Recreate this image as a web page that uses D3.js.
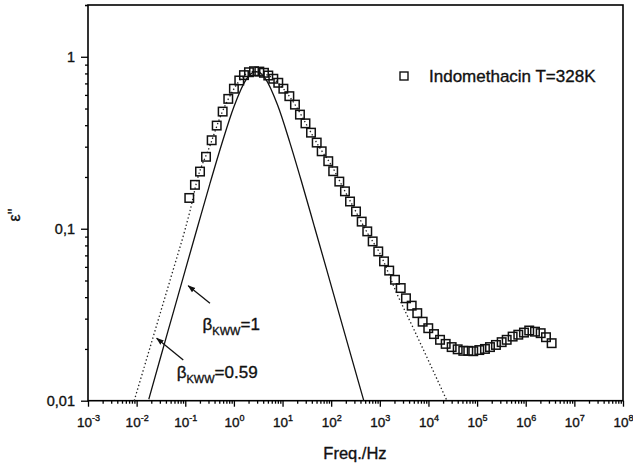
<!DOCTYPE html>
<html>
<head>
<meta charset="utf-8">
<script src="https://cdn.jsdelivr.net/npm/d3@7"></script>
<style>
  body { margin: 0; background: #fff; }
  svg { display: block; font-family: "Liberation Sans", Arial, sans-serif; }
  svg text { fill: #111; stroke: #111; stroke-width: 0.35px; }
  .axis path { display: none; }
  .axis line { stroke: #000; stroke-width: 1.3px; }
</style>
</head>
<body>
<div class="chart"></div>
<script>
// measured points, Indomethacin T=328K
const freq = [0.121,0.158,0.201,0.267,0.349,0.443,0.587,0.766,1.00,1.29,
  1.61,2.04,2.59,3.33,4.15,5.09,6.46,8.17,10.4,13.8,
  18.0,22.8,29.6,38.5,50.4,63.8,87.1,110,147,192,
  244,324,424,552,713,929,1220,1560,2050,2690,
  3450,4520,5890,7600,9910,13000,17300,22600,30000,39900,
  52000,65900,83400,111000,145000,184000,244000,320000,406000,538000,
  703000,920000,1.18e6,1.55e6,2.03e6,2.61e6,3.41e6];
const epsData = [0.151,0.180,0.215,0.262,0.327,0.398,0.480,0.569,0.652,0.728,
  0.782,0.813,0.824,0.820,0.807,0.778,0.745,0.706,0.652,0.590,
  0.527,0.461,0.410,0.362,0.317,0.282,0.247,0.216,0.188,0.165,
  0.144,0.126,0.110,0.0965,0.0844,0.0738,0.0646,0.0571,0.0505,0.0452,
  0.0394,0.0357,0.0323,0.0288,0.0264,0.0244,0.0226,0.0214,0.0205,0.0199,
  0.0195,0.0195,0.0194,0.0197,0.0200,0.0205,0.0211,0.0219,0.0226,0.0236,
  0.0242,0.0249,0.0256,0.0252,0.0247,0.0234,0.0216];

// solid line, beta_KWW = 1
const debyeFreq = [0.0178,0.0316,0.0562,0.1,0.178,0.316,0.562,1,1.78,2.24,
  2.85,3.55,4.47,7.94,14.1,25.1,44.7,79.4,141,251,468];
const debyeEps = [0.0102,0.0182,0.0323,0.0575,0.102,0.180,0.311,0.512,0.736,0.797,
  0.820,0.801,0.744,0.522,0.318,0.184,0.104,0.0588,0.0331,0.0186,0.0100];

// dotted line, beta_KWW = 0.59
const kwwFreq = [0.00891,0.0178,0.0316,0.0562,0.1,0.126,0.178,0.316,0.562,1,
  1.58,2.51,3.98,6.31,10,17.8,31.6,56.2,100,178,
  316,562,1000,2240,5010,10000,24000];
const kwwEps = [0.0100,0.0193,0.0333,0.0575,0.100,0.128,0.195,0.30,0.47,0.65,
  0.775,0.82,0.80,0.75,0.66,0.53,0.40,0.30,0.235,0.172,
  0.127,0.094,0.072,0.042,0.026,0.0171,0.0100];

// ticks
const xMajor = d3.range(-3, 9).map(e => Math.pow(10, e));
const yMajor = [0.01, 0.1, 1];
const yLabels = ["0,01", "0,1", "1"];

// annotations (arrow tip, arrow tail, label anchor) in data units
const notes = [
  { label: "=1", tip: [0.115, 0.0466], tail: [0.322, 0.0369], at: [0.227, 0.0258] },
  { label: "=0.59", tip: [0.0258, 0.0231], tail: [0.091, 0.01726], at: [0.0667, 0.01355] }
];

const width = 633, height = 468;
const margin = { top: 5, right: 10, bottom: 67.3, left: 88 };

const svg = d3.select(".chart").append("svg")
  .attr("width", width)
  .attr("height", height);

svg.append("rect").attr("width", width).attr("height", height).attr("fill", "#fff");

const x = d3.scaleLog().domain([1e-3, 1e8]).range([margin.left, width - margin.right]);
const y = d3.scaleLog().domain([0.01, 2]).range([height - margin.bottom, margin.top]);

// minor ticks
const xMinor = [];
for (let e = -3; e < 8; e++) for (let k = 2; k < 10; k++) xMinor.push(k * Math.pow(10, e));
const yMinor = [];
for (let e = -2; e < 1; e++) for (let k = 2; k < 10; k++) yMinor.push(k * Math.pow(10, e));
yMinor.push(2);

const xAxisG = svg.append("g")
  .attr("class", "axis")
  .attr("transform", "translate(0," + y.range()[0] + ")");
xAxisG.append("g").call(d3.axisBottom(x).tickValues(xMinor).tickSize(3).tickFormat(""));
const xMaj = xAxisG.append("g").call(d3.axisBottom(x).tickValues(xMajor).tickSize(6).tickFormat(""));

xMaj.selectAll(".tick").append("text")
  .attr("y", 26.5)
  .attr("text-anchor", "middle")
  .style("font-size", "13.5px")
  .each(function(d) {
    const t = d3.select(this);
    const e = Math.round(Math.log10(d));
    t.append("tspan").text("10");
    t.append("tspan").attr("dy", -6).style("font-size", "9px").text(e);
  });

const yAxisG = svg.append("g")
  .attr("class", "axis")
  .attr("transform", "translate(" + margin.left + ",0)");
yAxisG.append("g").call(d3.axisLeft(y).tickValues(yMinor).tickSize(3).tickFormat(""));
yAxisG.append("g").call(d3.axisLeft(y).tickValues(yMajor).tickSize(7)
    .tickFormat((d, i) => yLabels[i]))
  .selectAll("text")
  .attr("x", -13)
  .style("font-size", "14.5px");

// frame
svg.append("rect")
  .attr("x", x.range()[0]).attr("y", y.range()[1])
  .attr("width", x.range()[1] - x.range()[0])
  .attr("height", y.range()[0] - y.range()[1])
  .attr("fill", "none").attr("stroke", "#000").attr("stroke-width", 1.6);

const line = d3.line()
  .x(d => x(d[0]))
  .y(d => y(d[1]))
  .curve(d3.curveMonotoneX);

svg.append("path")
  .datum(kwwFreq.map((f, i) => [f, kwwEps[i]]))
  .attr("d", line)
  .attr("fill", "none").attr("stroke", "#222")
  .attr("stroke-width", 1.3)
  .attr("stroke-dasharray", "1.4,2.4");

svg.append("path")
  .datum(debyeFreq.map((f, i) => [f, debyeEps[i]]))
  .attr("d", line)
  .attr("fill", "none").attr("stroke", "#111")
  .attr("stroke-width", 1.3);

const s = 8.5;
svg.selectAll(".pt")
  .data(freq.map((f, i) => [f, epsData[i]]))
  .join("rect")
  .attr("class", "pt")
  .attr("x", d => x(d[0]) - s / 2)
  .attr("y", d => y(d[1]) - s / 2)
  .attr("width", s).attr("height", s)
  .attr("fill", "none").attr("stroke", "#111").attr("stroke-width", 1.5);

// legend
svg.append("rect")
  .attr("x", 400).attr("y", 72).attr("width", 8).attr("height", 8)
  .attr("fill", "none").attr("stroke", "#111").attr("stroke-width", 1.4);
svg.append("text")
  .attr("x", 429).attr("y", 82)
  .style("font-size", "17px")
  .text("Indomethacin T=328K");

// arrows + beta labels
svg.append("defs").append("marker")
  .attr("id", "head")
  .attr("viewBox", "0 0 10 10")
  .attr("refX", 9).attr("refY", 5)
  .attr("markerWidth", 6).attr("markerHeight", 6)
  .attr("orient", "auto")
  .append("path").attr("d", "M0,1.5L10,5L0,8.5z").attr("fill", "#111");

svg.selectAll(".arrow")
  .data(notes)
  .join("line")
  .attr("class", "arrow")
  .attr("x1", d => x(d.tail[0])).attr("y1", d => y(d.tail[1]))
  .attr("x2", d => x(d.tip[0])).attr("y2", d => y(d.tip[1]))
  .attr("stroke", "#111").attr("stroke-width", 1.3)
  .attr("marker-end", "url(#head)");

const lbl = svg.selectAll(".beta")
  .data(notes)
  .join("text")
  .attr("class", "beta")
  .attr("x", d => x(d.at[0])).attr("y", d => y(d.at[1]))
  .style("font-size", "17px");
lbl.append("tspan").text("\u03B2");
lbl.append("tspan").attr("dy", 5).style("font-size", "11px").text("KWW");
lbl.append("tspan").attr("dy", -5).text(d => d.label);

// axis titles
svg.append("text")
  .attr("x", 355).attr("y", 459)
  .attr("text-anchor", "middle")
  .style("font-size", "16.5px")
  .text("Freq./Hz");

svg.append("text")
  .attr("transform", "translate(20,215) rotate(-90)")
  .attr("text-anchor", "middle")
  .style("font-size", "16px")
  .text("\u03B5\"");
</script>
</body>
</html>
